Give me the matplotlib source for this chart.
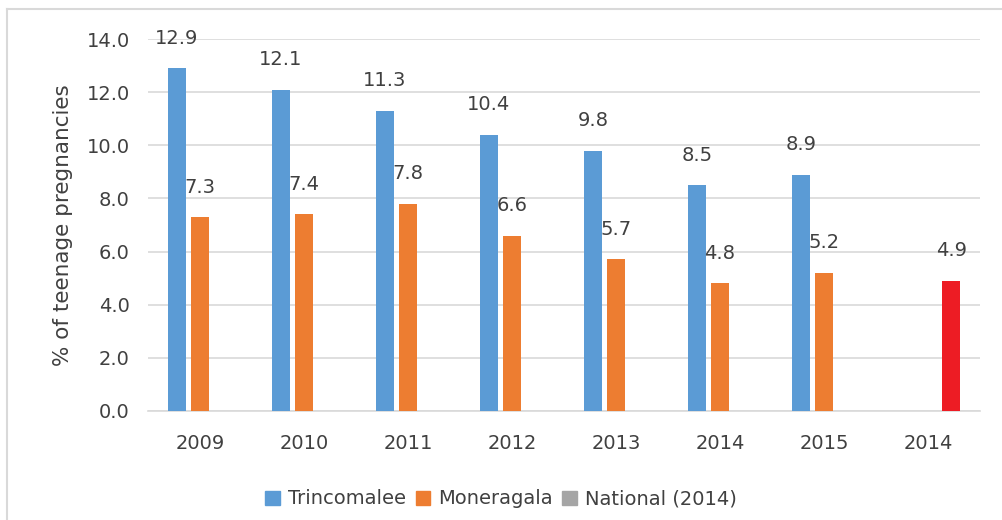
import matplotlib
matplotlib.use("Agg")
import matplotlib.pyplot as plt
from matplotlib.patches import Patch
from matplotlib.lines import Line2D
import numpy as np

categories = ["2009", "2010", "2011", "2012", "2013", "2014", "2015", "2014"]
trincomalee = [12.9, 12.1, 11.3, 10.4, 9.8, 8.5, 8.9, None]
moneragala = [7.3, 7.4, 7.8, 6.6, 5.7, 4.8, 5.2, None]
national = [None, None, None, None, None, None, None, 4.9]
yticks = [0, 2, 4, 6, 8, 10, 12, 14]

C_BLUE = "#5B9BD5"
C_ORANGE = "#ED7D31"
C_GRAY = "#A5A5A5"
C_RED = "#ED1C24"
TXT = "#404040"
FS = 14

plt.rcParams['font.family'] = ['DejaVu Sans']

fig = plt.figure(figsize=(10.02, 5.20), dpi=100)
W, H = 1002, 520
ax = fig.add_axes([148 / W, 1 - 410.7 / H, (980 - 148) / W, (410.7 - 39.3) / H])

x = np.arange(len(categories))
bw = 0.173
off = 0.222

def draw(series, dx, color):
    for i, v in enumerate(series):
        if v is None:
            continue
        ax.bar(x[i] + dx, v, width=bw, color=color, zorder=3)
        ax.annotate(f"{v:.1f}", (x[i] + dx, v), xytext=(0, 21.6),
                    textcoords="offset points", ha="center", va="center",
                    fontsize=FS, color=TXT, zorder=4, annotation_clip=False)

draw(trincomalee, -off, C_BLUE)
draw(moneragala, 0, C_ORANGE)
draw(national, off, C_RED)

ax.set_xlim(-0.5, len(categories) - 0.5)
ax.set_ylim(0, 14)
ax.set_yticks(yticks)
ax.set_yticklabels([f"{t:.1f}" for t in yticks])
ax.set_xticks(x)
ax.set_xticklabels(categories)
ax.tick_params(axis="both", length=0, labelsize=FS, labelcolor=TXT)
ax.tick_params(axis="y", pad=13)
ax.tick_params(axis="x", pad=17)
ax.grid(axis="y", color="#D9D9D9", linewidth=1.2, zorder=0)
for s in ["top", "right", "left"]:
    ax.spines[s].set_visible(False)
ax.spines["bottom"].set_color("#D9D9D9")
ax.spines["bottom"].set_linewidth(1.2)
ax.set_ylabel("% of teenage pregnancies", fontsize=15.5, color=TXT, labelpad=10)

handles = [Patch(color=C_BLUE), Patch(color=C_ORANGE), Patch(color=C_GRAY)]
labels = ["Trincomalee", "Moneragala", "National (2014)"]
fig.legend(handles, labels, loc="center", bbox_to_anchor=(501 / W, 1 - 499 / H),
           ncol=3, frameon=False, fontsize=FS, labelcolor=TXT,
           handlelength=0.75, handleheight=0.75, handletextpad=0.4, columnspacing=0.5)

# outer chart border
fig.add_artist(Line2D([7 / W, 7 / W], [0, 1 - 9 / H], transform=fig.transFigure,
                      color="#D9D9D9", linewidth=1.5))
fig.add_artist(Line2D([7 / W, 1], [1 - 9 / H, 1 - 9 / H], transform=fig.transFigure,
                      color="#D9D9D9", linewidth=1.5))

fig.savefig("out.png", dpi=100)
